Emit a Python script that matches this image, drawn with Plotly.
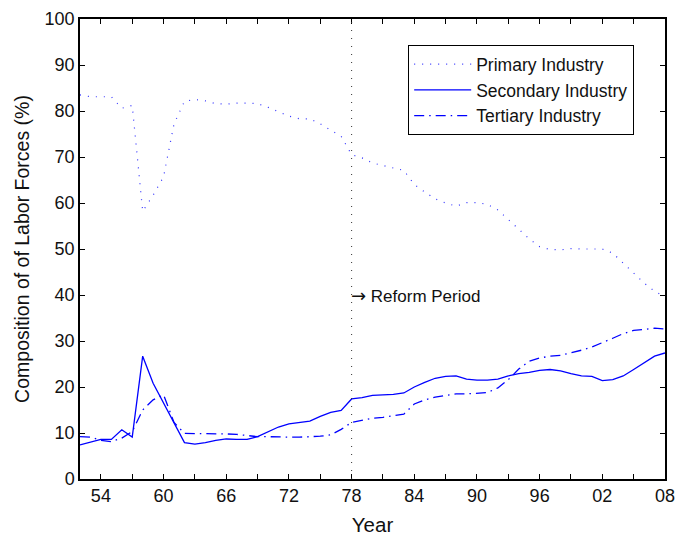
import plotly.graph_objects as go

years = list(range(1952, 2009))

primary = [83.5, 83.1, 83.1, 83.1, 80.6, 81.2, 58.2, 61.7, 65.7, 77.2,
           82.1, 82.5, 82.2, 81.6, 81.5, 81.7, 81.7, 81.6, 80.8, 79.8,
           78.9, 78.3, 78.3, 77.2, 75.8, 74.5, 70.5, 69.8, 68.7, 68.1,
           67.6, 67.1, 64.0, 62.4, 60.9, 60.0, 59.3, 60.1, 60.1, 59.7,
           58.5, 56.4, 54.3, 52.2, 50.5, 49.9, 49.8, 50.1, 50.0, 50.0,
           50.0, 49.1, 46.9, 44.8, 42.6, 40.8, 39.6]

secondary = [7.4, 8.0, 8.6, 8.6, 10.7, 9.1, 26.7, 20.8, 16.5, 12.1,
             7.9, 7.6, 7.9, 8.4, 8.7, 8.6, 8.6, 9.2, 10.2, 11.3,
             12.0, 12.3, 12.6, 13.6, 14.5, 14.9, 17.4, 17.7, 18.2, 18.3,
             18.4, 18.7, 20.0, 21.0, 21.9, 22.3, 22.4, 21.7, 21.5, 21.5,
             21.7, 22.4, 22.9, 23.2, 23.6, 23.8, 23.5, 22.9, 22.4, 22.3,
             21.4, 21.6, 22.4, 23.8, 25.2, 26.7, 27.4]

tertiary = [9.2, 9.1, 8.4, 8.1, 8.9, 10.3, 15.0, 17.2, 18.3, 12.3,
            9.9, 9.9, 9.9, 9.9, 9.8, 9.7, 9.5, 9.2, 9.2, 9.1,
            9.1, 9.1, 9.2, 9.3, 9.6, 10.8, 12.3, 12.7, 13.2, 13.4,
            13.7, 14.1, 16.3, 17.2, 17.8, 18.2, 18.5, 18.5, 18.6, 18.8,
            19.8, 21.6, 23.9, 25.6, 26.3, 26.7, 26.9, 27.4, 28.0, 28.7,
            29.6, 30.6, 31.6, 32.3, 32.5, 32.8, 32.6]

series_names = ["Primary Industry", "Secondary Industry", "Tertiary Industry"]
x_tick_years = [1954, 1960, 1966, 1972, 1978, 1984, 1990, 1996, 2002, 2008]
x_tick_labels = ["54", "60", "66", "72", "78", "84", "90", "96", "02", "08"]
reform_year = 1978
reform_label = ("<span style='font-family:DejaVu Sans;font-size:18px'>→</span>"
                " Reform Period")
reform_label_y = 40

FONT = "Liberation Sans, Arial, sans-serif"

fig = go.Figure()
fig.add_trace(go.Scatter(x=years, y=primary, mode="lines", name=series_names[0],
                         line=dict(color="#3030ff", width=1.2, dash="1px,7px")))
fig.add_trace(go.Scatter(x=years, y=secondary, mode="lines", name=series_names[1],
                         line=dict(color="#0000ff", width=1.3)))
fig.add_trace(go.Scatter(x=years, y=tertiary, mode="lines", name=series_names[2],
                         line=dict(color="#0000ff", width=1.3, dash="10px,5px,1.5px,5px")))

fig.add_vline(x=reform_year, line=dict(color="#333333", width=1, dash="1px,7px"))
fig.add_annotation(x=reform_year, y=reform_label_y, text=reform_label, showarrow=False,
                   xanchor="left", yanchor="middle", xshift=-3,
                   font=dict(family=FONT, size=17, color="#111111"))

axis_common = dict(showgrid=False, zeroline=False, showline=True, linecolor="black",
                   linewidth=1.5, mirror="ticks", ticks="inside", ticklen=5,
                   tickcolor="black", tickwidth=1, automargin=False,
                   tickfont=dict(family=FONT, size=18, color="#111111"))

fig.update_xaxes(range=[1952, 2008], tickvals=x_tick_years, ticktext=x_tick_labels,
                 minor=dict(tick0=1951, dtick=3, ticks="inside", ticklen=5,
                            tickcolor="black", tickwidth=1),
                 title=dict(text="Year", font=dict(family=FONT, size=20.5, color="#111111"),
                            standoff=20),
                 **axis_common)
fig.update_yaxes(range=[0, 100], dtick=10,
                 title=dict(text="Composition of of Labor Forces (%)",
                            font=dict(family=FONT, size=19.5, color="#111111"), standoff=10),
                 **axis_common)

fig.update_layout(
    width=676, height=536,
    margin=dict(l=80, r=11, t=19, b=57),
    plot_bgcolor="white", paper_bgcolor="white",
    font=dict(family=FONT, color="black"),
    legend=dict(x=0.561, y=0.943, xanchor="left", yanchor="top",
                bgcolor="white", bordercolor="black", borderwidth=1,
                font=dict(family=FONT, size=17.5, color="#111111"),
                tracegroupgap=0, itemwidth=57),
)

fig.write_html("out.html", config={"displayModeBar": False},
               post_script="document.body.style.margin='0';document.body.style.overflow='hidden';")
